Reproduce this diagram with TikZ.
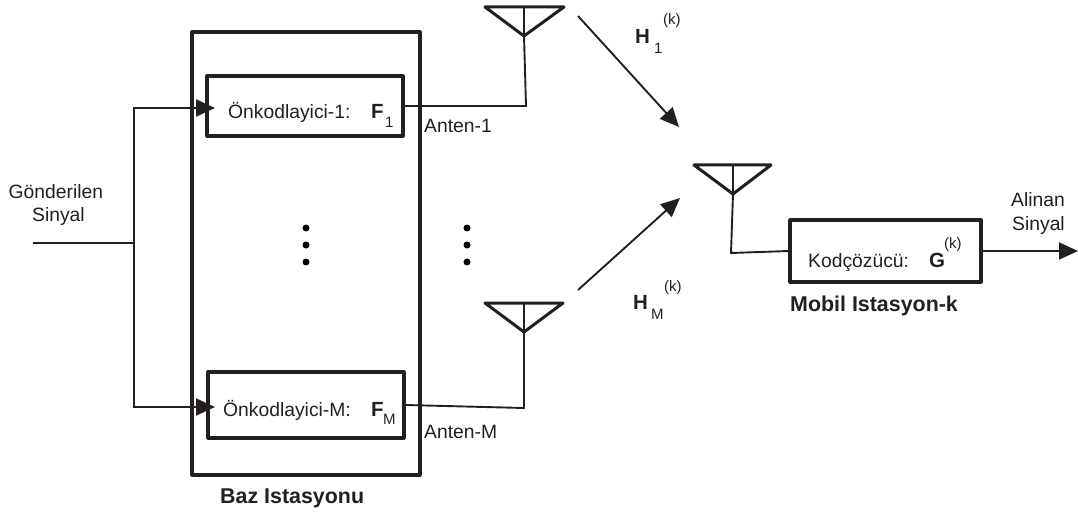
\documentclass[tikz,border=0pt]{standalone}
\usepackage{fontspec}
\setmainfont{Liberation Sans}
\usetikzlibrary{arrows.meta}
\definecolor{ink}{HTML}{231F20}
\tikzset{
  every path/.style={line join=miter},
  boxnode/.style={draw=ink,line width=3.2pt,inner sep=0pt,line join=round},
  wire/.style={draw=ink,line width=1.9pt},
  arrowwire/.style={wire,-{Triangle[length=19pt,width=17pt,color=ink]}},
  antenna/.style={draw=ink,line width=3pt,line join=round,line cap=round},
  stem/.style={draw=ink,line width=1.6pt},
  txt/.style={anchor=base west,inner sep=0pt,text=ink,font=\fontsize{19.3pt}{21pt}\selectfont},
  bigtxt/.style={txt,font=\fontsize{21.4pt}{23pt}\selectfont\bfseries},
  symtxt/.style={txt,font=\fontsize{20.5pt}{22pt}\selectfont\bfseries},
  subtxt/.style={txt,font=\fontsize{15pt}{17pt}\selectfont},
  dotmark/.style={circle,fill=black,inner sep=0pt,minimum size=7pt},
}
\begin{document}
\begin{tikzpicture}[x=1pt,y=-1pt]
\useasboundingbox (0,0) rectangle (1078,513);
% boxes
\node[boxnode,minimum width=228pt,minimum height=443pt] (base) at (306,253.5) {};
\node[boxnode,minimum width=196pt,minimum height=60pt] (pre1) at (305,106) {};
\node[boxnode,minimum width=196pt,minimum height=66pt] (preM) at (306,405) {};
\node[boxnode,minimum width=191pt,minimum height=62pt] (dec) at (885.5,251) {};
% antennas
\coordinate (a1l) at (485,7); \coordinate (a1r) at (564,7); \coordinate (a1t) at (524,7); \coordinate (a1a) at (524,36); \coordinate (a1c) at (526,106);
\coordinate (aMl) at (485,303); \coordinate (aMr) at (563,303); \coordinate (aMt) at (524,303); \coordinate (aMa) at (524,332); \coordinate (aMc) at (524,408);
\coordinate (akl) at (694,165); \coordinate (akr) at (771,165); \coordinate (akt) at (733,165); \coordinate (aka) at (733,194); \coordinate (akc) at (731,253);
\draw[antenna] (a1l) -- (a1r) -- (a1a) -- cycle;
\draw[antenna] (aMl) -- (aMr) -- (aMa) -- cycle;
\draw[antenna] (akl) -- (akr) -- (aka) -- cycle;
\draw[stem] (a1t) -- (a1a);
\draw[stem] (aMt) -- (aMa);
\draw[stem] (akt) -- (aka);
% input
\coordinate (in) at (33,243); \coordinate (split) at (134,243);
\coordinate (up) at (134,108); \coordinate (down) at (134,407);
\coordinate (t1) at (215,108); \coordinate (tM) at (215,407);
\draw[wire] (in) -- (split);
\draw[arrowwire] (split) -- (up) -- (t1);
\draw[arrowwire] (split) -- (down) -- (tM);
% outputs of the precoders
\draw[wire,line join=miter] (pre1.east) -- (a1c) -- (a1a);
\draw[wire,line join=miter] (preM.east) -- (aMc) -- (aMa);
% channels
\coordinate (h1s) at (578,16); \coordinate (h1e) at (679,127);
\coordinate (hMs) at (578,290); \coordinate (hMe) at (680,198);
\draw[arrowwire] (h1s) -- (h1e);
\draw[arrowwire] (hMs) -- (hMe);
% mobile
\draw[wire,line join=miter] (aka) -- (akc) -- (dec.west);
\coordinate (out) at (1078,251);
\draw[arrowwire] (dec.east) -- (out);
% dots
\node[dotmark] (d1) at (306,228) {}; \node[dotmark] (d2) at (306,245) {}; \node[dotmark] (d3) at (306,262) {};
\node[dotmark] (e1) at (467,228) {}; \node[dotmark] (e2) at (467,245) {}; \node[dotmark] (e3) at (467,262) {};
% text
\node[txt] (l1) at (8.5,198) {Gönderilen};
\node[txt] (l2) at (32,221) {Sinyal};
\node[txt] (l3) at (228,119) {Önkodlayici-1:};
\node[symtxt] (l4) at (371,119) {F};
\node[subtxt] (l5) at (385,128) {1};
\node[txt] (l6) at (424,133) {Anten-1};
\node[txt] (l7) at (223,416) {Önkodlayici-M:};
\node[symtxt] (l8) at (371,416) {F};
\node[subtxt] (l9) at (383,424) {M};
\node[txt] (l10) at (424,438) {Anten-M};
\node[bigtxt] (l11) at (220,503) {Baz Istasyonu};
\node[symtxt] (l12) at (635,44) {H};
\node[subtxt] (l13) at (654,54) {1};
\node[subtxt] (l14) at (663,25) {(k)};
\node[symtxt] (l15) at (633,309) {H};
\node[subtxt] (l16) at (651,319) {M};
\node[subtxt] (l17) at (664,291) {(k)};
\node[txt] (l18) at (808,267) {Kodçözücü:};
\node[symtxt] (l19) at (929,267) {G};
\node[subtxt] (l20) at (944,248) {(k)};
\node[bigtxt] (l21) at (790,311) {Mobil Istasyon-k};
\node[txt] (l22) at (1011,207) {Alinan};
\node[txt] (l23) at (1012,230) {Sinyal};
\end{tikzpicture}
\end{document}
